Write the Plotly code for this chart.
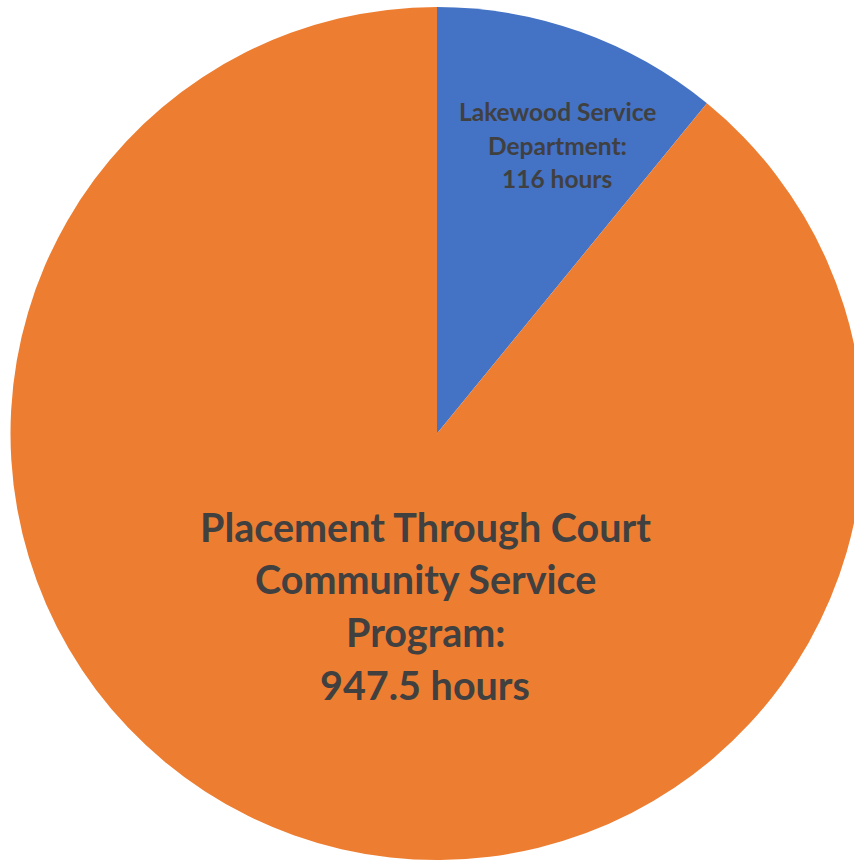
import plotly.graph_objects as go

# Data
categories = ["Lakewood Service Department", "Placement Through Court Community Service Program"]
hours = [116, 947.5]
label_lines = [
    ["Lakewood Service", "Department:", "116 hours"],
    ["Placement Through Court", "Community Service", "Program:", "947.5 hours"],
]
colors = ["#4472C4", "#ED7D31"]

VIEW_W, H = 854, 863
cx, cy, r = 437, 433.5, 426.5
W = int(cx + r + 10)  # figure slightly wider than the view; the pie is cut at the right edge

fig = go.Figure(go.Pie(
    labels=categories,
    values=hours,
    sort=False,
    direction="clockwise",
    rotation=0,
    marker=dict(colors=colors, line=dict(width=0)),
    textinfo="none",
    hoverinfo="label+value",
    showlegend=False,
    domain=dict(x=[(cx - r) / W, (cx + r) / W],
                y=[(H - cy - r) / H, (H - cy + r) / H]),
))

# label placement (centre x, first-line y in px from top, line spacing, font size)
specs = [
    (557, 112, 33.3, 24.5),
    (425, 526, 52.7, 39.5),
]
annotations = []
for lines, (lx, ly, dy, fs) in zip(label_lines, specs):
    for i, t in enumerate(lines):
        annotations.append(dict(
            x=lx / W, y=(H - (ly + i * dy)) / H, xref="paper", yref="paper",
            text=t, showarrow=False, xanchor="center", yanchor="middle",
            font=dict(family="Lato", size=fs, color="#404040", weight="bold"),
        ))

fig.update_layout(
    width=W, height=H,
    margin=dict(l=0, r=0, t=0, b=0),
    paper_bgcolor="white",
    annotations=annotations,
)
fig.write_html(
    "out.html",
    config={"displayModeBar": False},
    post_script="document.body.style.margin='0';document.body.style.overflow='hidden';",
)
